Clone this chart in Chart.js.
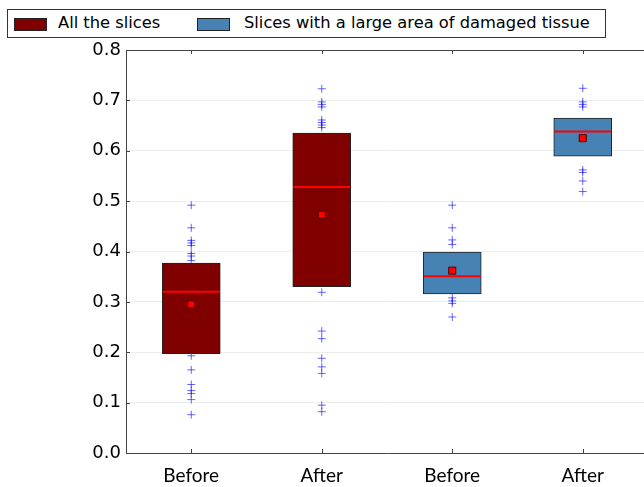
<!DOCTYPE html>
<html>
<head>
<meta charset="utf-8">
<script src="https://cdn.jsdelivr.net/npm/chart.js@4/dist/chart.umd.min.js"></script>
<style>
  html, body { margin: 0; padding: 0; background: #fff; overflow: hidden; }
  #wrap { position: relative; width: 650px; height: 487px; }
  #legend {
    position: absolute; left: 7px; top: 9px; width: 599px; height: 29px;
    border: 1px solid #333; background: #fff; box-sizing: border-box;
    font-family: "DejaVu Sans", sans-serif; font-size: 16.3px; color: #000;
  }
  #legend .sw { position: absolute; top: 8px; width: 31px; height: 11px; border: 1px solid #222; }
  #legend .lbl { position: absolute; top: 3px; white-space: nowrap; }
</style>
</head>
<body>
<div id="wrap">
  <canvas id="chart" width="650" height="487"></canvas>
  <div id="legend"></div>
</div>
<script>
  // box stats, one entry per x position (1..4)
  const categories = ['Before', 'After', 'Before', 'After'];
  const groups     = ['All the slices', 'Slices with a large area of damaged tissue'];
  const groupColors = ['#800000', '#4682b4'];
  const groupOf    = [0, 0, 1, 1];

  const q1      = [0.197, 0.330, 0.316, 0.589];
  const q3      = [0.377, 0.635, 0.399, 0.665];
  const medians = [0.320, 0.528, 0.351, 0.638];
  const means   = [0.295, 0.473, 0.362, 0.625];

  const fliers = [
    [0.492, 0.447, 0.422, 0.417, 0.412, 0.396, 0.391, 0.382,
     0.193, 0.165, 0.136, 0.124, 0.118, 0.106, 0.076],
    [0.723, 0.697, 0.692, 0.687, 0.661, 0.656, 0.651, 0.646,
     0.319, 0.242, 0.227, 0.188, 0.171, 0.158, 0.095, 0.082],
    [0.492, 0.447, 0.423, 0.414, 0.308, 0.302, 0.297, 0.270],
    [0.724, 0.697, 0.692, 0.687, 0.562, 0.557, 0.540, 0.519]
  ];

  const yTicks = [0, 0.1, 0.2, 0.3, 0.4, 0.5, 0.6, 0.7, 0.8];

  // legend (html, with the boxed look)
  const legendEl = document.getElementById('legend');
  const legendPos = [[6, 50], [189, 236]];
  groups.forEach((g, i) => {
    const sw = document.createElement('div');
    sw.className = 'sw';
    sw.style.left = legendPos[i][0] + 'px';
    sw.style.background = groupColors[i];
    const lb = document.createElement('div');
    lb.className = 'lbl';
    lb.style.left = legendPos[i][1] + 'px';
    lb.textContent = g;
    legendEl.appendChild(sw);
    legendEl.appendChild(lb);
  });

  const boxSets = groups.map((g, gi) => ({
    type: 'bar',
    label: g,
    data: categories.map((c, i) => groupOf[i] === gi ? { x: i + 1, y: [q1[i], q3[i]] } : null).filter(Boolean),
    backgroundColor: groupColors[gi],
    borderColor: '#222',
    borderWidth: 1,
    borderSkipped: false,
    barThickness: 58,
    grouped: false,
    order: 4
  }));

  const flierPts = [];
  fliers.forEach((arr, i) => arr.forEach(v => flierPts.push({ x: i + 1, y: v })));

  const datasets = boxSets.concat([
    {
      type: 'scatter',
      label: 'fliers',
      data: flierPts,
      pointStyle: 'cross',
      pointRadius: 4,
      borderColor: 'rgba(0,0,255,0.6)',
      borderWidth: 1,
      order: 3
    },
    {
      type: 'scatter',
      label: 'median',
      data: medians.map((v, i) => ({ x: i + 1, y: v })),
      pointStyle: 'line',
      pointRadius: 28.5,
      borderColor: '#ff0000',
      borderWidth: 2,
      order: 2
    },
    {
      type: 'scatter',
      label: 'mean',
      data: means.map((v, i) => ({ x: i + 1, y: v })),
      pointStyle: 'rect',
      pointRadius: 5,
      backgroundColor: '#ff0000',
      borderColor: '#550000',
      borderWidth: 1,
      order: 1
    }
  ]);

  // matplotlib-ish frame: top spine and inward ticks
  const framePlugin = {
    id: 'frame',
    afterDraw(chart) {
      const { ctx, chartArea: a, scales } = chart;
      ctx.save();
      ctx.strokeStyle = '#444';
      ctx.lineWidth = 1;
      ctx.beginPath();
      ctx.moveTo(a.left, a.top + 0.5);
      ctx.lineTo(a.right, a.top + 0.5);
      yTicks.forEach(v => {
        const y = Math.round(scales.y.getPixelForValue(v)) + 0.5;
        ctx.moveTo(a.left, y); ctx.lineTo(a.left + 4, y);
      });
      categories.forEach((c, i) => {
        const x = Math.round(scales.x.getPixelForValue(i + 1)) + 0.5;
        ctx.moveTo(x, a.bottom); ctx.lineTo(x, a.bottom - 4);
        ctx.moveTo(x, a.top); ctx.lineTo(x, a.top + 4);
      });
      ctx.stroke();
      ctx.restore();
    }
  };

  new Chart(document.getElementById('chart'), {
    type: 'bar',
    data: { datasets },
    plugins: [framePlugin],
    options: {
      responsive: false,
      animation: false,
      layout: { autoPadding: false, padding: { top: 50, right: 2, left: 0, bottom: 0 } },
      plugins: { legend: { display: false }, tooltip: { enabled: false } },
      scales: {
        x: {
          type: 'linear',
          min: 0.5,
          max: 4.5,
          offset: false,
          afterFit: s => { s.height = 34; s.paddingLeft = 0; s.paddingRight = 0; },
          afterBuildTicks: s => { s.ticks = categories.map((c, i) => ({ value: i + 1 })); },
          grid: { display: false, drawTicks: false },
          border: { color: '#444', width: 1 },
          ticks: {
            autoSkip: false,
            maxRotation: 0,
            padding: 11,
            color: '#000',
            font: { family: 'Lato', size: 19 },
            callback: v => categories[Math.round(v) - 1] || ''
          }
        },
        y: {
          min: 0,
          max: 0.8,
          afterFit: s => { s.width = 126; },
          grid: { color: 'rgba(0,0,0,0.07)', drawTicks: false },
          border: { color: '#444', width: 1 },
          ticks: {
            stepSize: 0.1,
            padding: 5,
            color: '#000',
            font: { family: 'DejaVu Sans', size: 18 },
            callback: v => v.toFixed(1)
          }
        }
      }
    }
  });
</script>
</body>
</html>
